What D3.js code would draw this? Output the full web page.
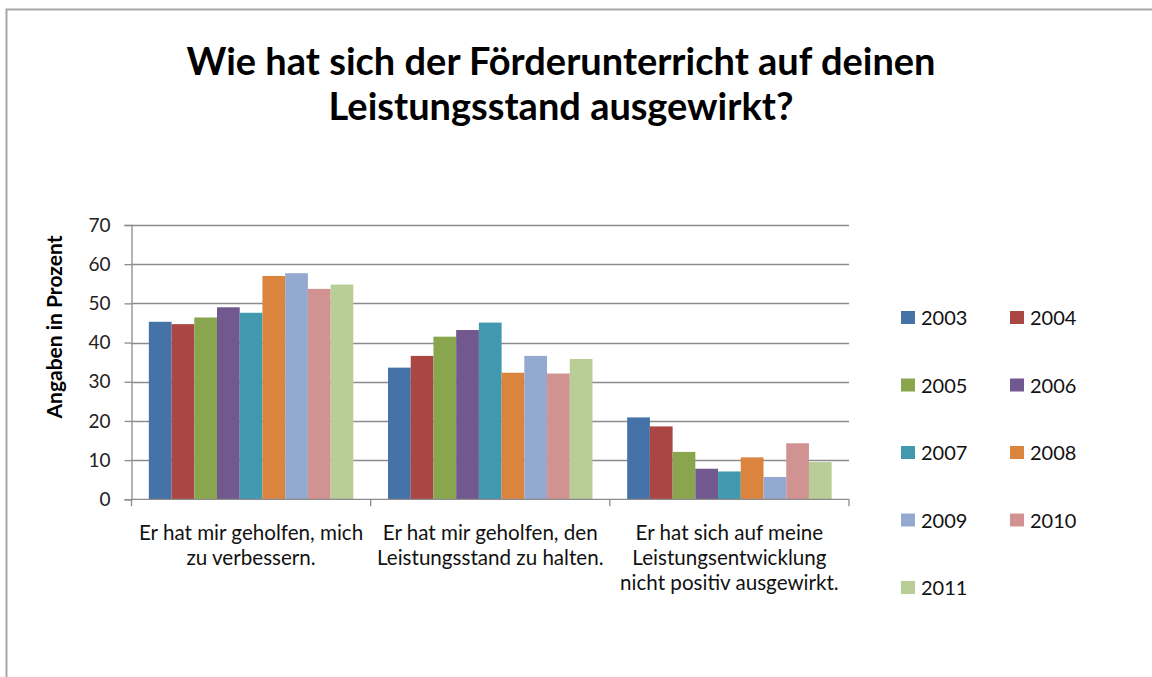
<!DOCTYPE html>
<html>
<head>
<meta charset="utf-8">
<script src="https://cdn.jsdelivr.net/npm/d3@7"></script>
<style>
  body { margin: 0; background: #fff; }
  svg text { font-family: Lato, "Open Sans", sans-serif; }
</style>
</head>
<body>
<div id="canvas"></div>
<script>
"use strict"

/* data */
let categories = [
    "Er hat mir geholfen, mich\nzu verbessern.",
    "Er hat mir geholfen, den\nLeistungsstand zu halten.",
    "Er hat sich auf meine\nLeistungsentwicklung\nnicht positiv ausgewirkt."
];
let years = ["2003", "2004", "2005", "2006", "2007", "2008", "2009", "2010", "2011"];
let values2003 = [45.3, 33.6, 20.9];
let values2004 = [44.7, 36.6, 18.6];
let values2005 = [46.4, 41.5, 12.1];
let values2006 = [49.0, 43.2, 7.8];
let values2007 = [47.6, 45.1, 7.1];
let values2008 = [57.0, 32.3, 10.7];
let values2009 = [57.7, 36.6, 5.7];
let values2010 = [53.7, 32.1, 14.3];
let values2011 = [54.8, 35.8, 9.5];
let yTicks = [0, 10, 20, 30, 40, 50, 60, 70];
let colors = ["#4572A7", "#AA4643", "#89A54E", "#71588F", "#4198AF",
              "#DB843D", "#93A9CF", "#D19392", "#B9CD96"];

let seriesValues = [values2003, values2004, values2005, values2006, values2007,
                    values2008, values2009, values2010, values2011];

let drawing = d3.select("#canvas")
    .append("svg")
    .attr("width", 1152)
    .attr("height", 677);

/* chart frame, runs off the right and bottom edge */
let frame = drawing.append("rect")
    .attr("x", 6.5)
    .attr("y", 9.5)
    .attr("width", 1200)
    .attr("height", 700)
    .attr("fill", "white")
    .attr("stroke", "#a6a6a6")
    .attr("stroke-width", 2);

let title = drawing.append("text")
    .attr("x", 561)
    .attr("y", 75)
    .attr("text-anchor", "middle")
    .attr("font-size", 38)
    .attr("font-weight", "bold")
    .attr("fill", "black");
title.append("tspan").attr("x", 561).text("Wie hat sich der Förderunterricht auf deinen");
title.append("tspan").attr("x", 561).attr("dy", 45).text("Leistungsstand ausgewirkt?");

/* plot area */
let plotLeft = 131.5, plotRight = 849, plotTop = 225, plotBottom = 499.3;

let y = d3.scaleLinear()
    .domain([0, 70])
    .range([plotBottom, plotTop]);

let x0 = d3.scaleBand()
    .domain(categories)
    .range([plotLeft, plotRight]);

let gap = x0.bandwidth() * 0.0725;
let x1 = d3.scaleBand()
    .domain(years)
    .range([gap, x0.bandwidth() - gap]);

/* gridlines */
drawing.append("g")
    .selectAll("line")
    .data(yTicks.slice(1))
    .join("line")
    .attr("x1", plotLeft)
    .attr("x2", plotRight)
    .attr("y1", d => Math.round(y(d)) + 0.5)
    .attr("y2", d => Math.round(y(d)) + 0.5)
    .attr("stroke", "#8c8c8c")
    .attr("stroke-width", 1.3);

/* bars */
let groups = drawing.append("g")
    .selectAll("g")
    .data(seriesValues)
    .join("g")
    .attr("fill", (d, i) => colors[i]);

groups.selectAll("rect")
    .data((d, i) => d.map((v, j) => ({ year: years[i], cat: categories[j], value: v })))
    .join("rect")
    .attr("x", d => x0(d.cat) + x1(d.year))
    .attr("y", d => y(d.value))
    .attr("width", x1.bandwidth())
    .attr("height", d => y(0) - y(d.value));

/* y axis */
let yAxis = drawing.append("g")
    .attr("transform", `translate(${plotLeft},0)`)
    .call(d3.axisLeft(y).tickValues(yTicks).tickSize(7).tickPadding(14));
yAxis.select(".domain").attr("stroke", "#8c8c8c").attr("stroke-width", 1.3);
yAxis.selectAll(".tick line").attr("stroke", "#8c8c8c").attr("stroke-width", 1.3);
yAxis.selectAll(".tick text")
    .attr("font-family", "Lato, sans-serif")
    .attr("font-size", 19)
    .attr("fill", "#222");

/* x axis line and ticks between categories */
drawing.append("line")
    .attr("x1", plotLeft)
    .attr("x2", plotRight)
    .attr("y1", plotBottom)
    .attr("y2", plotBottom)
    .attr("stroke", "#8c8c8c")
    .attr("stroke-width", 1.3);

let boundaries = categories.map(c => x0(c)).concat([x0.range()[1]]);
drawing.append("g")
    .selectAll("line")
    .data(boundaries)
    .join("line")
    .attr("x1", d => d)
    .attr("x2", d => d)
    .attr("y1", plotBottom)
    .attr("y2", plotBottom + 7)
    .attr("stroke", "#8c8c8c")
    .attr("stroke-width", 1.3);

/* category labels */
let catLabels = drawing.append("g")
    .selectAll("text")
    .data(categories)
    .join("text")
    .attr("x", d => x0(d) + x0.bandwidth() / 2)
    .attr("y", 540)
    .attr("text-anchor", "middle")
    .attr("font-size", 20.6)
    .attr("fill", "#111");
catLabels.selectAll("tspan")
    .data(d => d.split("\n"))
    .join("tspan")
    .attr("x", function () { return this.parentNode.getAttribute("x"); })
    .attr("dy", (d, i) => i === 0 ? 0 : 25)
    .text(d => d);

/* y axis title */
drawing.append("text")
    .attr("transform", "translate(62,327) rotate(-90)")
    .attr("text-anchor", "middle")
    .attr("font-size", 21)
    .attr("font-weight", "bold")
    .attr("fill", "black")
    .text("Angaben in Prozent");

/* legend, two columns */
let legend = drawing.append("g")
    .selectAll("g")
    .data(years)
    .join("g")
    .attr("transform", (d, i) => `translate(${901 + (i % 2) * 109},${311 + Math.floor(i / 2) * 67.5})`);

legend.append("rect")
    .attr("width", 14)
    .attr("height", 13)
    .attr("fill", (d, i) => colors[i]);

legend.append("text")
    .attr("x", 20)
    .attr("y", 14)
    .attr("font-size", 20)
    .attr("fill", "#111")
    .text(d => d);
</script>
</body>
</html>
